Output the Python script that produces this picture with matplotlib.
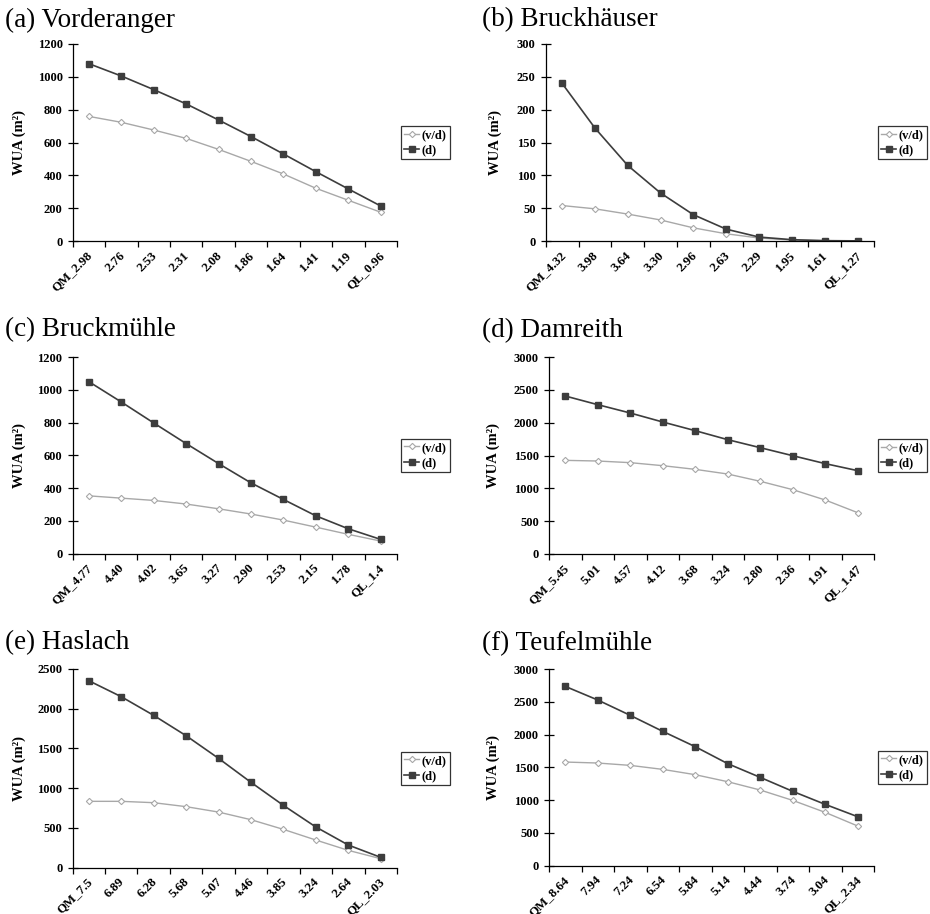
import numpy as np
import matplotlib
matplotlib.use("Agg")
import matplotlib.pyplot as plt

plt.rcParams['font.family'] = ['Liberation Serif', 'DejaVu Serif']

# panel titles
titles = ["(a) Vorderanger", "(b) Bruckhäuser", "(c) Bruckmühle",
          "(d) Damreith", "(e) Haslach", "(f) Teufelmühle"]

# x categories (discharge steps)
cats_a = ["QM_2.98", "2.76", "2.53", "2.31", "2.08", "1.86", "1.64", "1.41", "1.19", "QL_0.96"]
cats_b = ["QM_4.32", "3.98", "3.64", "3.30", "2.96", "2.63", "2.29", "1.95", "1.61", "QL_1.27"]
cats_c = ["QM_4.77", "4.40", "4.02", "3.65", "3.27", "2.90", "2.53", "2.15", "1.78", "QL_1.4"]
cats_d = ["QM_5.45", "5.01", "4.57", "4.12", "3.68", "3.24", "2.80", "2.36", "1.91", "QL_1.47"]
cats_e = ["QM_7.5", "6.89", "6.28", "5.68", "5.07", "4.46", "3.85", "3.24", "2.64", "QL_2.03"]
cats_f = ["QM_8.64", "7.94", "7.24", "6.54", "5.84", "5.14", "4.44", "3.74", "3.04", "QL_2.34"]

# WUA values, (v/d) and (d)
vd_a = [759, 723, 676, 625, 558, 485, 408, 321, 248, 175]
d_a = [1080, 1005, 922, 835, 737, 636, 530, 422, 317, 213]
vd_b = [54, 49, 41, 32, 20, 11, 4.5, 1.5, 0.5, 0.2]
d_b = [240, 172, 115, 73, 40, 18, 6, 2, 0.5, 0.2]
vd_c = [353, 339, 325, 303, 274, 242, 205, 162, 118, 77]
d_c = [1050, 926, 798, 672, 550, 432, 331, 231, 152, 87]
vd_d = [1426, 1416, 1391, 1345, 1289, 1218, 1107, 980, 822, 629]
d_d = [2406, 2274, 2147, 2010, 1878, 1741, 1619, 1497, 1376, 1269]
vd_e = [835, 835, 818, 768, 700, 604, 482, 348, 218, 113]
d_e = [2353, 2152, 1917, 1661, 1376, 1074, 784, 512, 285, 130]
vd_f = [1581, 1566, 1530, 1469, 1388, 1281, 1154, 996, 813, 605]
d_f = [2735, 2527, 2293, 2049, 1815, 1556, 1347, 1134, 935, 747]

ymax = [1200, 300, 1200, 3000, 2500, 3000]
ystep = [200, 50, 200, 500, 500, 500]

cats = [cats_a, cats_b, cats_c, cats_d, cats_e, cats_f]
vds = [vd_a, vd_b, vd_c, vd_d, vd_e, vd_f]
ds = [d_a, d_b, d_c, d_d, d_e, d_f]

W, H = 930, 914
# axes boxes in pixels: left, top, right, bottom
boxes = [(72.7, 44, 397, 241), (545.7, 44, 874, 241),
         (72.5, 357, 397, 553.7), (549, 357, 874, 554),
         (72.5, 669, 397, 867.7), (549, 669, 874, 865.7)]
title_pos = [(5, 20), (482, 20), (5, 330), (482, 331), (5, 643), (482, 644)]
ylab_x = [26, 501.7, 26, 500, 26, 500]

fig = plt.figure(figsize=(W / 100, H / 100), dpi=100)
dark = "#3d3d3d"
light = "#a8a8a8"

for i in range(6):
    l, t, r, b = boxes[i]
    ax = fig.add_axes([l / W, 1 - b / H, (r - l) / W, (b - t) / H])
    x = np.arange(len(cats[i]))
    ax.plot(x, vds[i], color=light, lw=1.0, marker="D", ms=3.2,
            mfc="white", mec=light, mew=0.8, label="(v/d)")
    ax.plot(x, ds[i], color=dark, lw=1.2, marker="s", ms=4.5,
            mfc=dark, mec=dark, label="(d)")
    ax.set_xlim(-0.5, len(x) - 0.5)
    ax.set_ylim(0, ymax[i])
    ax.set_yticks(np.arange(0, ymax[i] + 1, ystep[i]))
    ax.set_xticks(x - 0.08)
    ax.set_xticklabels(cats[i], rotation=45, ha="right", va="top",
                       rotation_mode="anchor", fontweight="bold", fontsize=9.3)
    ax.set_xticks(np.arange(-0.5, len(x)), minor=True)
    ax.tick_params(axis="x", which="major", length=0, pad=6)
    ax.tick_params(axis="x", which="minor", length=4, width=0.9, direction="out")
    ax.tick_params(axis="y", length=6.5, width=0.9, direction="inout", pad=4)
    for lab in ax.get_yticklabels():
        lab.set_fontweight("bold")
        lab.set_fontsize(9)
    for s in ["top", "right"]:
        ax.spines[s].set_visible(False)
    for s in ["left", "bottom"]:
        ax.spines[s].set_linewidth(0.9)
    ax.set_ylabel("WUA (m²)", fontweight="bold", fontsize=10.5)
    ax.yaxis.set_label_coords((ylab_x[i] - l) / (r - l), 0.5)
    leg = ax.legend(loc="center left", bbox_to_anchor=(1.012, 0.5),
                    prop={"weight": "bold", "size": 9}, frameon=True,
                    fancybox=False, edgecolor="black", handlelength=1.2,
                    handletextpad=0.2, borderpad=0.25, labelspacing=0.25,
                    borderaxespad=0)
    leg.get_frame().set_linewidth(0.9)
    tx, ty = title_pos[i]
    fig.text(tx / W, 1 - ty / H, titles[i], fontsize=19.5, va="center", ha="left")

fig.savefig("out.png", dpi=100)
